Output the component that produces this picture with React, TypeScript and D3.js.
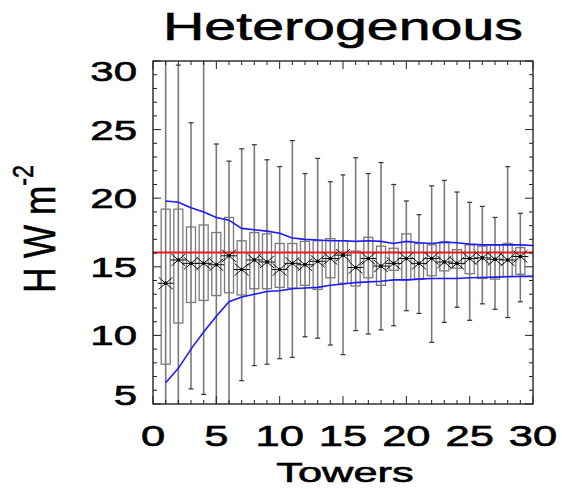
import React, { useEffect, useRef } from "react";
import * as d3 from "d3";

// box stats per tower (towers 1..29)
const towers = d3.range(1, 30);
const maxVals = [33, 29.7, 25.5, 32, 23.95, 22.7, 23.6, 23.9, 22.8, 22.3, 24.2, 21.8, 22.9, 21.2, 21.7, 22.95, 21.8, 22.6, 21.0, 19.8, 18.8, 20.9, 21.3, 20.45, 19.7, 19.4, 18.6, 22.3, 18.9];
const q3Vals = [19.2, 19.2, 17.9, 18.05, 17.5, 18.6, 16.9, 17.5, 17.4, 16.7, 16.7, 16.85, 16.9, 17.05, 16.9, 16.15, 17.15, 16.5, 16.35, 17.4, 16.7, 16.6, 16.8, 16.25, 16.6, 16.5, 16.6, 16.7, 16.4];
const q1Vals = [7.9, 10.9, 12.4, 12.55, 12.9, 13.1, 12.95, 13.4, 13.4, 13.5, 13.45, 13.65, 13.35, 14.2, 13.8, 13.6, 14.2, 13.65, 14.75, 14.05, 14.1, 14.35, 14.7, 14.9, 14.5, 14.15, 14.1, 14.3, 14.45];
const minVals = [2, 2, 6.1, 5.7, 2, 2, 6.7, 7.8, 7.9, 8.3, 8.4, 9.9, 9.8, 9.3, 8.6, 10.35, 10.1, 10.4, 10.7, 11.8, 11.6, 9.5, 10.95, 12.05, 11.1, 12.3, 11.9, 11.3, 12.45];
const meanVals = [13.8, 15.5, 15.25, 15.25, 15.15, 15.8, 14.8, 15.5, 15.35, 14.8, 15.25, 15.15, 15.4, 15.6, 15.85, 14.95, 15.6, 15.05, 15.25, 15.6, 15.25, 15.6, 15.35, 15.25, 15.6, 15.65, 15.55, 15.5, 15.75];

// envelope lines (towers 1..30)
const envX = d3.range(1, 31);
const upperEnv = [19.8, 19.7, 19.3, 19.0, 18.6, 18.4, 17.8, 17.7, 17.6, 17.45, 17.1, 17.0, 16.95, 16.9, 16.9, 16.85, 16.9, 16.85, 16.7, 16.85, 16.75, 16.7, 16.8, 16.75, 16.65, 16.6, 16.6, 16.6, 16.6, 16.55];
const lowerEnv = [6.55, 7.6, 9.0, 10.25, 11.4, 12.45, 12.8, 13.0, 13.2, 13.25, 13.4, 13.45, 13.5, 13.65, 13.75, 13.85, 13.9, 13.95, 14.05, 14.05, 14.1, 14.15, 14.15, 14.15, 14.2, 14.22, 14.25, 14.27, 14.3, 14.3];

const refValue = 16.05;
const xTicks = [0, 5, 10, 15, 20, 25, 30];
const yTicks = [5, 10, 15, 20, 25, 30];

const App = () => {
  const svgRef = useRef(null);

  useEffect(() => {
    const width = 562;
    const height = 489;
    const left = 153, right = 533, top = 61, bottom = 404;
    const font = "'Liberation Sans', Arial, Helvetica, sans-serif";

    const svg = d3.select(svgRef.current).attr("width", width).attr("height", height);
    svg.selectAll("*").remove();

    const x = d3.scaleLinear().domain([0, 30]).range([left, right]);
    const y = d3.scaleLinear().domain([5, 30]).range([bottom, top]);

    svg.append("rect").attr("width", width).attr("height", height).attr("fill", "#fff");

    svg.append("clipPath").attr("id", "plotclip")
      .append("rect").attr("x", left).attr("y", top).attr("width", right - left).attr("height", bottom - top);

    const plot = svg.append("g").attr("clip-path", "url(#plotclip)");

    const stats = towers.map((t, i) => ({
      t, min: minVals[i], q1: q1Vals[i], q3: q3Vals[i], max: maxVals[i], mean: meanVals[i],
    }));

    const boxW = 9;
    const capW = 5;
    const grey = "#7a7a7a";

    // whiskers
    plot.selectAll(".whisk").data(stats).enter().append("line")
      .attr("x1", (d) => x(d.t)).attr("x2", (d) => x(d.t))
      .attr("y1", (d) => y(d.min)).attr("y2", (d) => y(d.max))
      .attr("stroke", grey).attr("stroke-width", 1.6);

    plot.selectAll(".capTop").data(stats).enter().append("line")
      .attr("x1", (d) => x(d.t) - capW / 2).attr("x2", (d) => x(d.t) + capW / 2)
      .attr("y1", (d) => y(d.max)).attr("y2", (d) => y(d.max))
      .attr("stroke", "#333").attr("stroke-width", 1.2);

    plot.selectAll(".capBot").data(stats).enter().append("line")
      .attr("x1", (d) => x(d.t) - capW / 2).attr("x2", (d) => x(d.t) + capW / 2)
      .attr("y1", (d) => y(d.min)).attr("y2", (d) => y(d.min))
      .attr("stroke", "#333").attr("stroke-width", 1.2);

    // boxes
    plot.selectAll(".box").data(stats).enter().append("rect")
      .attr("x", (d) => x(d.t) - boxW / 2)
      .attr("width", boxW)
      .attr("y", (d) => y(d.q3))
      .attr("height", (d) => y(d.q1) - y(d.q3))
      .attr("fill", "none")
      .attr("stroke", grey)
      .attr("stroke-width", 1.3);

    // envelope lines
    const line = d3.line()
      .x((d) => x(d[0]))
      .y((d) => y(d[1]));

    plot.append("path")
      .datum(envX.map((t, i) => [t, upperEnv[i]]))
      .attr("d", line).attr("fill", "none").attr("stroke", "#1c1cf5").attr("stroke-width", 1.6);

    plot.append("path")
      .datum(envX.map((t, i) => [t, lowerEnv[i]]))
      .attr("d", line).attr("fill", "none").attr("stroke", "#1c1cf5").attr("stroke-width", 1.6);

    // reference line
    plot.append("line")
      .attr("x1", x(0)).attr("x2", x(30))
      .attr("y1", y(refValue)).attr("y2", y(refValue))
      .attr("stroke", "#f01818").attr("stroke-width", 2);

    // asterisk markers
    const marks = plot.selectAll(".mark").data(stats).enter().append("g")
      .attr("transform", (d) => `translate(${x(d.t)},${y(d.mean)})`);
    const arms = [[-8, 0, 8, 0], [-7, -6, 7, 6], [-7, 6, 7, -6]];
    arms.forEach((a) => {
      marks.append("line")
        .attr("x1", a[0]).attr("y1", a[1]).attr("x2", a[2]).attr("y2", a[3])
        .attr("stroke", "#111").attr("stroke-width", 1);
    });
    marks.append("circle").attr("r", 1.8).attr("fill", "#000");

    // frame
    svg.append("rect")
      .attr("x", left).attr("y", top).attr("width", right - left).attr("height", bottom - top)
      .attr("fill", "none").attr("stroke", "#000").attr("stroke-width", 1.2);

    // ticks on all four sides
    const xMinor = d3.range(0, 31);
    const yMinor = d3.range(5, 31);
    const tickLen = (v) => (v % 5 === 0 ? 8 : 4);

    svg.selectAll(".xtb").data(xMinor).enter().append("line")
      .attr("x1", (d) => x(d)).attr("x2", (d) => x(d))
      .attr("y1", bottom).attr("y2", (d) => bottom - tickLen(d))
      .attr("stroke", "#222").attr("stroke-width", 1);
    svg.selectAll(".xtt").data(xMinor).enter().append("line")
      .attr("x1", (d) => x(d)).attr("x2", (d) => x(d))
      .attr("y1", top).attr("y2", (d) => top + tickLen(d))
      .attr("stroke", "#222").attr("stroke-width", 1);
    svg.selectAll(".ytl").data(yMinor).enter().append("line")
      .attr("x1", left).attr("x2", (d) => left + tickLen(d))
      .attr("y1", (d) => y(d)).attr("y2", (d) => y(d))
      .attr("stroke", "#222").attr("stroke-width", 1);
    svg.selectAll(".ytr").data(yMinor).enter().append("line")
      .attr("x1", right).attr("x2", (d) => right - tickLen(d))
      .attr("y1", (d) => y(d)).attr("y2", (d) => y(d))
      .attr("stroke", "#222").attr("stroke-width", 1);

    // tick labels (stretched wide like the source)
    const sx = 1.5;
    const heavy = (sel) => sel.attr("fill", "#000").attr("stroke", "#000").attr("stroke-width", 0.6);

    svg.selectAll(".xlab").data(xTicks).enter().append("text")
      .attr("transform", (d) => `translate(${x(d)},446) scale(${sx},1)`)
      .attr("text-anchor", "middle")
      .attr("font-family", font).attr("font-size", 29)
      .call(heavy)
      .text((d) => d);

    const labelY = (v) => Math.max(top + 10, Math.min(bottom - 9, y(v)));
    svg.selectAll(".ylab").data(yTicks).enter().append("text")
      .attr("transform", (d) => `translate(137,${labelY(d) + 10}) scale(${sx},1)`)
      .attr("text-anchor", "end")
      .attr("font-family", font).attr("font-size", 28)
      .call(heavy)
      .text((d) => d);

    // title
    svg.append("text")
      .attr("transform", `translate(343,40) scale(1.47,1)`)
      .attr("text-anchor", "middle")
      .attr("font-family", font).attr("font-size", 39)
      .call(heavy)
      .text("Heterogenous");

    // x title
    svg.append("text")
      .attr("transform", `translate(345,482) scale(1.55,1)`)
      .attr("text-anchor", "middle")
      .attr("font-family", font).attr("font-size", 28)
      .call(heavy)
      .text("Towers");

    // y title
    const yt = svg.append("text")
      .attr("transform", `translate(55,293) rotate(-90) scale(0.78,1)`)
      .attr("text-anchor", "start")
      .attr("font-family", font).attr("font-size", 45)
      .call(heavy);
    yt.append("tspan").text("H W m");
    yt.append("tspan").attr("dy", -22).attr("font-size", 30).text("-2");
  }, []);

  return (
    <div style={{ position: "absolute", left: 0, top: 0 }}>
      <svg ref={svgRef}></svg>
    </div>
  );
};

export default App;
